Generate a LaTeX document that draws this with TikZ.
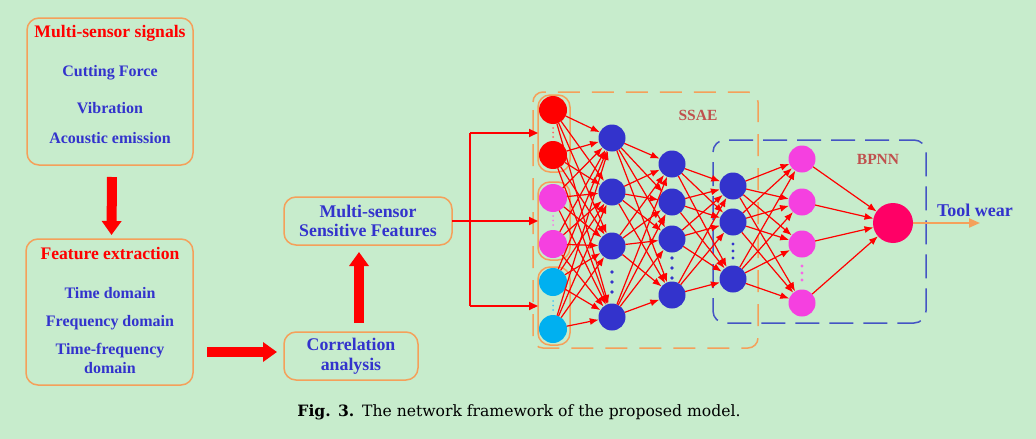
\documentclass[tikz,border=0pt]{standalone}
\usepackage{fontspec}
\setmainfont{Liberation Serif}
\newfontfamily\capfont{DejaVu Serif}
\usetikzlibrary{arrows.meta,calc}
\definecolor{bgc}{RGB}{199,236,204}
\definecolor{boxor}{RGB}{245,160,90}
\definecolor{tblue}{RGB}{51,51,204}
\definecolor{nblue}{RGB}{51,51,204}
\definecolor{nmag}{RGB}{245,64,224}
\definecolor{ncyan}{RGB}{0,176,240}
\definecolor{nout}{RGB}{255,0,102}
\definecolor{lbrown}{RGB}{192,80,77}
\definecolor{dblue}{RGB}{68,84,196}
\tikzset{
  roundbox/.style={draw=boxor, line width=1.5pt, rounded corners=12pt, inner sep=0pt, outer sep=0pt},
  ttl/.style={text=red, font=\fontsize{17.6}{19}\selectfont\bfseries, inner sep=0pt},
  itm/.style={text=tblue, font=\fontsize{16}{19}\selectfont\bfseries, inner sep=0pt, align=center},
  bigitm/.style={text=tblue, font=\fontsize{17.8}{19.5}\selectfont\bfseries, inner sep=0pt, align=center},
  bigarrow/.style={red, line width=10pt, -{Triangle[length=14pt,width=19pt]}},
  neuron/.style={circle, minimum size=27pt, inner sep=0pt, outer sep=0pt},
  edge/.style={red, line width=1.2pt, -{Latex[length=9pt,width=7pt]}},
  feed/.style={red, line width=2pt},
  feedarrow/.style={red, line width=2pt, -{Triangle[length=9pt,width=8pt]}},
  grp/.style={draw=boxor, line width=1.5pt, rounded corners=12pt},
}
\begin{document}
\begin{tikzpicture}[x=1pt,y=-1pt]
\useasboundingbox[fill=bgc] (0,0) rectangle (1036,439);

% left boxes
\node[roundbox, minimum width=166pt, minimum height=147pt] (sig) at (110,91.5) {};
\node[ttl] (sigt) at (110,33) {Multi-sensor signals};
\node[itm] (s1) at (110,73) {Cutting Force};
\node[itm] (s2) at (110,108) {Vibration};
\node[itm] (s3) at (110,138) {Acoustic emission};

\node[roundbox, minimum width=167pt, minimum height=146pt] (fe) at (109.5,312) {};
\node[ttl] (fet) at (110,253) {Feature extraction};
\node[itm] (f1) at (110,293) {Time domain};
\node[itm] (f2) at (110,323) {Frequency domain};
\node[itm] (f3) at (110,358) {Time-frequency\\domain};

\node[roundbox, minimum width=134pt, minimum height=48pt, bigitm] (corr) at (351,356) {Correlation\\analysis};
\node[roundbox, minimum width=168pt, minimum height=48pt, bigitm] (sens) at (368,221) {Multi-sensor\\Sensitive Features};

\draw[bigarrow] ($(sig.south)+(2,12)$) -- ($(fe.north)+(2,-4)$);
\draw[bigarrow] ($(corr.west)+(-77,-4)$) -- ($(corr.west)+(-7,-4)$);
\draw[bigarrow] ($(corr.north)+(8,-9)$) -- ($(corr.north)+(8,-80)$);

% SSAE and BPNN frames
\draw[boxor, line width=1.5pt, rounded corners=10pt, dash pattern=on 22pt off 12pt, dash phase=-8pt] (533,92) rectangle (758,348);
\node[text=lbrown, font=\fontsize{15.5}{17}\selectfont\bfseries, inner sep=0pt] (ssae) at (698,115) {SSAE};
\draw[dblue, line width=1.5pt, rounded corners=12pt, dash pattern=on 24pt off 10pt, dash phase=-10pt] (713,140) rectangle (926,323);
\node[text=lbrown, font=\fontsize{15.5}{17}\selectfont\bfseries, inner sep=0pt] (bpnn) at (878,159) {BPNN};

% input groups
\draw[grp] (538,95) rectangle (570,172);
\draw[grp] (538,182) rectangle (570,260);
\draw[grp] (538,267) rectangle (570,345);

% neurons
\node[neuron, fill=red, minimum size=28pt] (a1) at (553,110) {};
\node[neuron, fill=red, minimum size=28pt] (a2) at (553,155) {};
\node[neuron, fill=nmag, minimum size=28pt] (a3) at (553,198) {};
\node[neuron, fill=nmag, minimum size=28pt] (a4) at (553,244) {};
\node[neuron, fill=ncyan, minimum size=28pt] (a5) at (553,282) {};
\node[neuron, fill=ncyan, minimum size=28pt] (a6) at (553,329) {};

\node[neuron, fill=nblue] (b1) at (612,138) {};
\node[neuron, fill=nblue] (b2) at (612,192) {};
\node[neuron, fill=nblue] (b3) at (612,246) {};
\node[neuron, fill=nblue] (b4) at (612,317) {};

\node[neuron, fill=nblue] (c1) at (672,164) {};
\node[neuron, fill=nblue] (c2) at (672,202) {};
\node[neuron, fill=nblue] (c3) at (672,239) {};
\node[neuron, fill=nblue] (c4) at (672,295) {};

\node[neuron, fill=nblue] (d1) at (733,186) {};
\node[neuron, fill=nblue] (d2) at (733,222) {};
\node[neuron, fill=nblue] (d3) at (733,279) {};

\node[neuron, fill=nmag] (e1) at (802,159) {};
\node[neuron, fill=nmag] (e2) at (802,202) {};
\node[neuron, fill=nmag] (e3) at (802,244) {};
\node[neuron, fill=nmag] (e4) at (802,303) {};

\node[neuron, fill=nout, minimum size=40pt] (out) at (893,223) {};

% dots
\foreach \y in {128,132.5,137} \fill[red!60!white] (553,\y) circle (1pt);
\foreach \y in {216,220.5,225} \fill[nmag!70!white] (553,\y) circle (1pt);
\foreach \y in {301,305.5,310} \fill[ncyan!70!white] (553,\y) circle (1pt);
\foreach \y in {272,282,292} \fill[nblue] (612,\y) circle (1.8pt);
\foreach \y in {258,268,278} \fill[nblue] (672,\y) circle (1.8pt);
\foreach \y in {244,251,258} \fill[nblue] (733,\y) circle (1.6pt);
\foreach \y in {266,273,280} \fill[nmag!80!white] (802,\y) circle (1.6pt);

% connections
\foreach \i in {1,...,6} \foreach \j in {1,...,4} \draw[edge] (a\i) -- (b\j);
\foreach \i in {1,...,4} \foreach \j in {1,...,4} \draw[edge] (b\i) -- (c\j);
\foreach \i in {1,...,4} \foreach \j in {1,...,3} \draw[edge] (c\i) -- (d\j);
\foreach \i in {1,...,3} \foreach \j in {1,...,4} \draw[edge] (d\i) -- (e\j);
\foreach \i in {1,...,4} \draw[edge] (e\i) -- (out);

% feeding lines
\coordinate (forkt) at (470,133);
\coordinate (forkb) at (470,306);
\coordinate (in1) at (538,133);
\coordinate (in2) at (538,221);
\coordinate (in3) at (538,306);
\draw[feed] (forkt) -- (forkb);
\draw[feedarrow] (sens.east) -- (in2);
\draw[feedarrow] (forkt) -- (in1);
\draw[feedarrow] (forkb) -- (in3);

% output
\coordinate (tw) at (980,223);
\draw[boxor, line width=2pt, -{Triangle[length=11pt,width=9pt]}] (out.east) -- (tw);
\node[text=tblue, font=\fontsize{18}{20}\selectfont\bfseries, inner sep=0pt] (toolw) at (975,210) {Tool wear};

% caption
\node[font=\capfont\fontsize{15.6}{18}\selectfont, inner sep=0pt] (cap) at (519,412) {\textbf{Fig. 3.}\enspace The network framework of the proposed model.};
\end{tikzpicture}
\end{document}
